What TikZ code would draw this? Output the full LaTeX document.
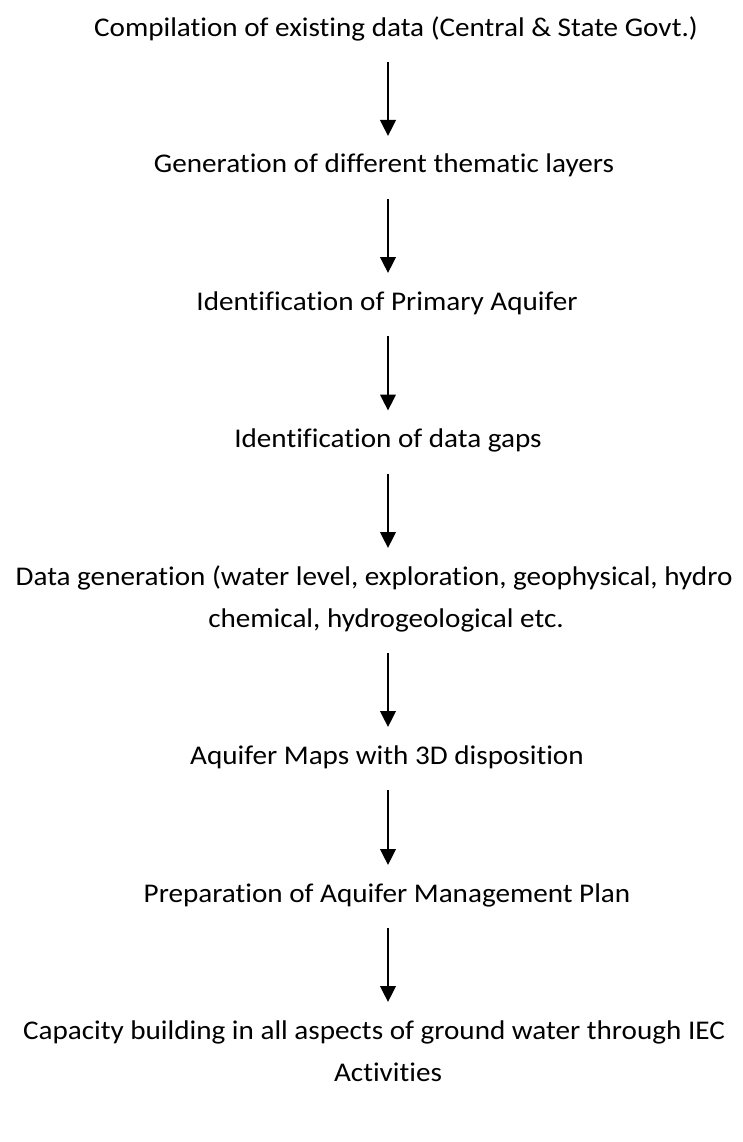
\documentclass[tikz,border=0pt]{standalone}
\usepackage{fontspec}
\setmainfont{Carlito}[FakeStretch=1.08,RawFeature=-liga]
\usetikzlibrary{arrows.meta,calc}
\begin{document}
\begin{tikzpicture}[x=1pt,y=-1pt,
  lbl/.style={anchor=base,inner sep=0pt,align=center,font=\fontsize{27}{42}\selectfont},
  arr/.style={line width=2.5pt,-{Triangle[width=15.5pt,length=16pt]}}]
\useasboundingbox (0,0) rectangle (742,1142);
\coordinate (ax) at (388,0);
\node[lbl] (n1) at (396,37) {Compilation of existing data (Central \& State Govt.)};
\node[lbl] (n2) at (384,173) {Generation of different thematic layers};
\node[lbl] (n3) at (387,310) {Identification of Primary Aquifer};
\node[lbl] (n4) at (388,447.5) {Identification of data gaps};
\node[lbl] (n5) at (374,585) {Data generation (water level, exploration, geophysical, hydro};
\node[lbl] (n5b) at (386,627) {chemical, hydrogeological etc.};
\node[lbl] (n6) at (387,764) {Aquifer Maps with 3D disposition};
\node[lbl] (n7) at (387,902) {Preparation of Aquifer Management Plan};
\node[lbl] (n8) at (374,1039) {Capacity building in all aspects of ground water through IEC};
\node[lbl] (n8b) at (388,1081) {Activities};
\draw[arr] ($(n1.base -| ax)+(0,25)$) -- ($(n2.base -| ax)+(0,-37)$);
\foreach \a/\b in {n2/n3,n3/n4,n4/n5,n5b/n6,n6/n7,n7/n8}{
  \draw[arr] ($(\a.base -| ax)+(0,26)$) -- ($(\b.base -| ax)+(0,-37)$);
}
\end{tikzpicture}
\end{document}
